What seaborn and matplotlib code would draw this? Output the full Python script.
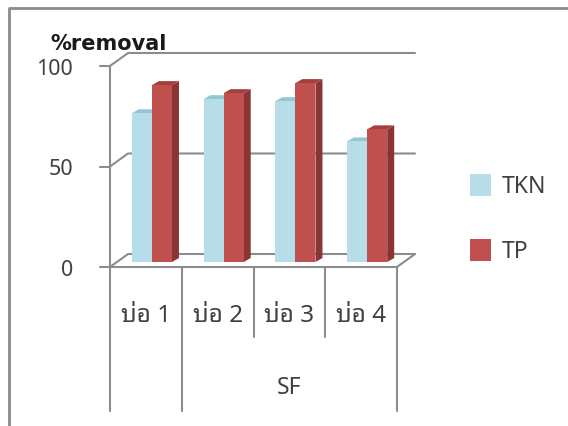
import numpy as np
import pandas as pd
import matplotlib
matplotlib.use("Agg")
import matplotlib.pyplot as plt
import seaborn as sns
from matplotlib import font_manager as fm
from matplotlib.patches import Polygon, Rectangle
from matplotlib.lines import Line2D
from matplotlib.transforms import IdentityTransform, ScaledTranslation

# ---------------- data ----------------
categories = ["บ่อ 1", "บ่อ 2", "บ่อ 3", "บ่อ 4"]
series_names = ["TKN", "TP"]
tkn_values = [74, 81, 80, 60]
tp_values = [88, 84, 89, 66]
group_labels = ["", "SF"]
y_ticks = [0, 50, 100]
y_title = "%removal"

# ---------------- fonts ----------------
available = sorted({f.name for f in fm.fontManager.ttflist})
thai_family = None
for pref in ["Noto Sans Thai Looped", "Noto Sans Thai L", "Loma", "Sarabun", "Noto Sans Thai"]:
    match = [n for n in available if n.startswith(pref)]
    if match:
        thai_family = match[0]
        break

sns.set_theme(style="white")
families = ([thai_family] if thai_family else []) + ["DejaVu Sans"]
plt.rcParams["font.family"] = families

W, H = 568, 427
DPI = 100
fig = plt.figure(figsize=(W / DPI, H / DPI), dpi=DPI)
fig.patch.set_facecolor("white")

# front plane of the 3-D box, in pixel coordinates
left_px, right_px, zero_px, top_px = 110, 397, 268, 67
ax = fig.add_axes([left_px / W, (H - zero_px) / H,
                   (right_px - left_px) / W, (zero_px - top_px) / H])

df = pd.DataFrame({
    "cat": categories * 2,
    "series": [series_names[0]] * len(categories) + [series_names[1]] * len(categories),
    "value": tkn_values + tp_values,
})
front_cols = {"TKN": "#B7DEE8", "TP": "#C0504D"}
side_cols = {"TKN": "#8FBFCB", "TP": "#8A3533"}
top_cols = {"TKN": "#93C6D3", "TP": "#A33F3C"}

sns.barplot(data=df, x="cat", y="value", hue="series", order=categories,
            hue_order=series_names, palette=front_cols, width=0.56, gap=0,
            legend=False, ax=ax, saturation=1, errorbar=None)
ax.set_xlim(-0.5, len(categories) - 0.5)
ax.set_ylim(0, 100)
ax.axis("off")

fig.canvas.draw()

BX, BY = 18, 13      # back-wall offset (px)
bx, by = 6, 5        # bar placement offset (px)
dx, dy = 7, 4        # bar depth (px)
grid_col = "#8C8C8C"
txt_col = "#404040"
lw = 1.5


def d2p(x, y):
    return np.array(ax.transData.transform((x, y)))


idt = IdentityTransform()
off = ScaledTranslation(bx / DPI, by / DPI, fig.dpi_scale_trans)

# bars: front faces shifted, then side and top faces
ser_for_patch = []
for s in series_names:
    ser_for_patch += [s] * len(categories)
for p, s in zip(ax.patches, ser_for_patch):
    x0, w, h = p.get_x(), p.get_width(), p.get_height()
    p.set_transform(ax.transData + off)
    p.set_zorder(3)
    p.set_edgecolor("none")
    br = d2p(x0 + w, 0) + (bx, by)
    tl = d2p(x0, h) + (bx, by)
    tr = d2p(x0 + w, h) + (bx, by)
    side = Polygon([br, tr, tr + (dx, dy), br + (dx, dy)], closed=True,
                   facecolor=side_cols[s], edgecolor="none", transform=idt,
                   zorder=2, clip_on=False)
    top = Polygon([tl, tr, tr + (dx, dy), tl + (dx, dy)], closed=True,
                  facecolor=top_cols[s], edgecolor="none", transform=idt,
                  zorder=2, clip_on=False)
    ax.add_artist(side)
    ax.add_artist(top)

# walls / gridlines
xmin, xmax = -0.5, len(categories) - 0.5
for v in y_ticks:
    F = d2p(xmin, v)
    R = d2p(xmax, v)
    ax.add_line(Line2D([F[0], F[0] + BX, R[0] + BX], [F[1], F[1] + BY, R[1] + BY],
                       color=grid_col, lw=lw, transform=idt, zorder=1, clip_on=False))
    ax.add_line(Line2D([F[0] - 10, F[0]], [F[1], F[1]], color=grid_col, lw=lw,
                       transform=idt, zorder=1, clip_on=False))
    ax.text(F[0] - 37, F[1], str(v), transform=idt, ha="right", va="center_baseline",
            fontsize=15.5, color=txt_col)
F0 = d2p(xmin, 0)
R0 = d2p(xmax, 0)
ax.add_line(Line2D([F0[0], R0[0], R0[0] + BX], [F0[1], R0[1], R0[1] + BY],
                   color=grid_col, lw=lw, transform=idt, zorder=4, clip_on=False))
# left axis line continuing down as a separator
T = d2p(xmin, 100)
ax.add_line(Line2D([T[0], T[0]], [T[1], H - 412], color=grid_col, lw=lw,
                   transform=idt, zorder=1, clip_on=False))
# category separators
for i, xb in enumerate(np.arange(0.5, len(categories), 1.0)):
    P = d2p(xb, 0)
    long_line = (i == 0) or (i == len(categories) - 1)
    yb = H - 412 if long_line else H - 338
    ax.add_line(Line2D([P[0], P[0]], [P[1], yb], color=grid_col, lw=lw,
                       transform=idt, zorder=1, clip_on=False))

# category labels
for i, c in enumerate(categories):
    P = d2p(i, 0)
    ax.text(P[0], H - 313, c, transform=idt, ha="center", va="center_baseline",
            fontsize=17.5, color=txt_col)
P = d2p(2, 0)
ax.text(P[0], H - 385, group_labels[1], transform=idt, ha="center",
        va="center_baseline", fontsize=16.5, color=txt_col)

# axis title
fig.text(50 / W, 1 - 42 / H, y_title, ha="left", va="center_baseline", fontsize=15,
         color="#1a1a1a", fontweight="bold", family=["DejaVu Sans"])

# legend
for (name, yc) in zip(series_names, [186, 251]):
    fig.add_artist(Rectangle(((470) / W, 1 - (yc + 11) / H), 21 / W, 22 / H,
                             facecolor=front_cols[name], edgecolor="none",
                             transform=fig.transFigure))
    fig.text(502 / W, 1 - (yc - 2) / H, name, ha="left", va="center_baseline",
             fontsize=16.5, color=txt_col)

# outer chart border (partially visible)
fig.add_artist(Line2D([9 / W, 9 / W, 1.0], [0.0, 1 - 9 / H, 1 - 9 / H],
                      color="#8A8A8A", lw=2, transform=fig.transFigure))

fig.savefig("out.png", dpi=DPI, facecolor="white")
